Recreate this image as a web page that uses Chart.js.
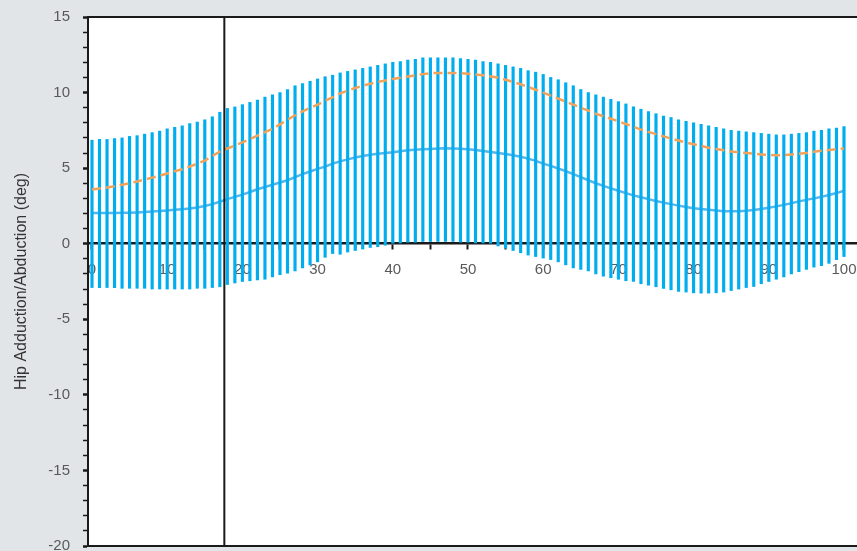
<!DOCTYPE html>
<html>
<head>
<meta charset="utf-8">
<script src="https://cdn.jsdelivr.net/npm/chart.js@4.4.1/dist/chart.umd.min.js"></script>
<style>
  html, body { margin: 0; padding: 0; background: #e2e5e8; }
  #wrap { width: 857px; height: 551px; position: relative; }
</style>
</head>
<body>
<div id="wrap"><canvas id="chart"></canvas></div>
<script>
// % of gait cycle, one bar per percent
const cycle = Array.from({ length: 101 }, (_, i) => i);

// upper / lower ends of the vertical bars (deg)
const upper = [
  6.85, 6.9, 6.9, 6.95, 7.0, 7.1, 7.15, 7.25, 7.35, 7.45,
  7.6, 7.7, 7.8, 7.95, 8.05, 8.2, 8.4, 8.7, 8.95, 9.05,
  9.2, 9.35, 9.5, 9.7, 9.85, 10.0, 10.2, 10.45, 10.6, 10.75,
  10.9, 11.05, 11.15, 11.3, 11.4, 11.5, 11.6, 11.7, 11.8, 11.9,
  12.0, 12.05, 12.15, 12.2, 12.3, 12.3, 12.3, 12.3, 12.3, 12.25,
  12.2, 12.15, 12.05, 12.0, 11.9, 11.8, 11.7, 11.6, 11.45, 11.35,
  11.2, 11.0, 10.85, 10.65, 10.45, 10.2, 10.0, 9.85, 9.7, 9.55,
  9.4, 9.25, 9.05, 8.9, 8.75, 8.6, 8.45, 8.35, 8.2, 8.1,
  8.0, 7.9, 7.8, 7.7, 7.6, 7.5, 7.45, 7.4, 7.35, 7.3,
  7.25, 7.2, 7.2, 7.25, 7.3, 7.35, 7.45, 7.5, 7.6, 7.65,
  7.75,
];
const lower = [
  -2.9, -2.9, -2.9, -2.9, -2.95, -2.95, -2.95, -2.95, -3.0, -3.0,
  -3.0, -3.0, -3.0, -3.0, -2.95, -2.95, -2.9, -2.85, -2.7, -2.6,
  -2.5, -2.45, -2.4, -2.35, -2.2, -2.05, -1.95, -1.8, -1.6, -1.4,
  -1.2, -0.9, -0.65, -0.7, -0.55, -0.45, -0.35, -0.25, -0.2, -0.1,
  0.0, 0.05, 0.1, 0.1, 0.15, 0.15, 0.15, 0.15, 0.15, 0.1,
  0.1, 0.05, 0.05, 0.0, -0.15, -0.3, -0.45, -0.6, -0.75, -0.85,
  -0.95, -1.05, -1.2, -1.4, -1.6, -1.7, -1.8, -2.0, -2.15, -2.25,
  -2.35, -2.45, -2.5, -2.65, -2.75, -2.85, -2.95, -3.05, -3.15, -3.2,
  -3.25, -3.27, -3.27, -3.25, -3.2, -3.1, -3.0, -2.9, -2.83, -2.65,
  -2.5, -2.35, -2.2, -2.0, -1.85, -1.7, -1.55, -1.45, -1.3, -1.05,
  -0.85,
];

// mean curve (solid blue)
const mean = [
  2.03, 2.03, 2.03, 2.04, 2.05, 2.05, 2.07, 2.1, 2.13, 2.17,
  2.2, 2.24, 2.28, 2.33, 2.4, 2.5, 2.62, 2.78, 2.95, 3.1,
  3.25, 3.42, 3.6, 3.75, 3.9, 4.05, 4.2, 4.4, 4.6, 4.78,
  4.95, 5.1, 5.3, 5.45, 5.58, 5.7, 5.8, 5.88, 5.95, 6.0,
  6.05, 6.12, 6.18, 6.22, 6.25, 6.27, 6.3, 6.32, 6.3, 6.28,
  6.25, 6.2, 6.14, 6.07, 6.0, 5.93, 5.85, 5.75, 5.63, 5.48,
  5.3, 5.15, 4.98, 4.8, 4.6, 4.4, 4.2, 4.0, 3.83, 3.66,
  3.5, 3.35, 3.2, 3.07, 2.95, 2.83, 2.72, 2.62, 2.52, 2.43,
  2.35, 2.29, 2.24, 2.19, 2.15, 2.14, 2.15, 2.18, 2.23, 2.3,
  2.38, 2.47, 2.57, 2.68, 2.8, 2.9, 3.0, 3.1, 3.22, 3.35,
  3.5,
];

// subject curve (orange dashed)
const subject = [
  3.58, 3.65, 3.72, 3.8, 3.9, 4.0, 4.12, 4.24, 4.37, 4.5,
  4.65, 4.8, 4.93, 5.1, 5.3, 5.5, 5.8, 6.1, 6.3, 6.5,
  6.7, 6.92, 7.15, 7.38, 7.6, 7.9, 8.2, 8.5, 8.75, 8.98,
  9.2, 9.45, 9.7, 9.95, 10.12, 10.3, 10.45, 10.58, 10.7, 10.8,
  10.9, 10.98, 11.06, 11.14, 11.22, 11.28, 11.3, 11.3, 11.3, 11.28,
  11.25, 11.2, 11.14, 11.07, 11.0, 10.85, 10.7, 10.55, 10.37, 10.19,
  10.0, 9.8, 9.6, 9.4, 9.2, 9.0, 8.8, 8.6, 8.43, 8.27,
  8.1, 7.92, 7.74, 7.55, 7.4, 7.25, 7.1, 6.96, 6.83, 6.7,
  6.58, 6.47, 6.35, 6.27, 6.18, 6.1, 6.05, 6.0, 5.95, 5.91,
  5.88, 5.85, 5.87, 5.9, 5.95, 6.0, 6.08, 6.15, 6.2, 6.25,
  6.3,
];

// event marker (toe off)
const eventAt = 17.6;
const yRange = [-20, 15];

// white plot area + top/bottom frame lines
const plotFrame = {
  id: "plotFrame",
  beforeDraw(chart) {
    const { ctx, chartArea: a } = chart;
    ctx.save();
    ctx.fillStyle = "#fff";
    ctx.fillRect(a.left, a.top, a.right - a.left, a.bottom - a.top);
    ctx.restore();
  },
  afterDraw(chart) {
    const { ctx, chartArea: a } = chart;
    ctx.save();
    ctx.strokeStyle = "#1a1a1a";
    ctx.lineWidth = 2;
    ctx.beginPath();
    ctx.moveTo(a.left, a.top);
    ctx.lineTo(a.right, a.top);
    ctx.moveTo(a.left, a.bottom);
    ctx.lineTo(a.right, a.bottom);
    ctx.stroke();
    ctx.restore();
  },
};

const tickFont = { family: "Liberation Sans, Arial, sans-serif", size: 15 };

new Chart(document.getElementById("chart"), {
  type: "bar",
  data: {
    datasets: [
      {
        type: "line",
        data: [
          { x: eventAt, y: yRange[1] },
          { x: eventAt, y: yRange[0] },
        ],
        borderColor: "#1a1a1a",
        borderWidth: 2,
        pointRadius: 0,
        order: 0,
      },
      {
        type: "line",
        data: cycle.map((x, i) => ({ x, y: subject[i] })),
        borderColor: "#f5a259",
        borderWidth: 2.5,
        borderDash: [9, 5],
        pointRadius: 0,
        order: 1,
      },
      {
        type: "bar",
        data: cycle.map((x, i) => ({ x, y: [lower[i], upper[i]] })),
        backgroundColor: "#00aeef",
        barThickness: 2.5,
        order: 2,
      },
      {
        type: "line",
        data: cycle.map((x, i) => ({ x, y: mean[i] })),
        borderColor: "#55b5ec",
        borderWidth: 2.5,
        pointRadius: 0,
        order: 3,
      },
    ],
  },
  options: {
    responsive: true,
    maintainAspectRatio: false,
    animation: false,
    layout: { padding: { top: 17, bottom: 5, left: 0, right: 0 } },
    plugins: { legend: { display: false }, tooltip: { enabled: false } },
    scales: {
      x: {
        type: "linear",
        position: { y: 0 },
        min: -0.53,
        max: 101.73,
        offset: false,
        grid: {
          offset: false,
          drawOnChartArea: false,
          drawTicks: true,
          tickLength: 5,
          tickColor: "#1a1a1a",
          tickWidth: 2,
        },
        border: { display: true, color: "#1a1a1a", width: 2.5, dash: [5, 3.5] },
        ticks: {
          stepSize: 5,
          includeBounds: false,
          autoSkip: false,
          maxRotation: 0,
          padding: 12,
          color: "#595959",
          font: tickFont,
          callback: (v) => (v % 10 === 0 ? v : ""),
        },
        afterFit(scale) {
          scale.paddingLeft = 0;
          scale.paddingRight = 0;
        },
      },
      y: {
        min: yRange[0],
        max: yRange[1],
        grid: {
          drawOnChartArea: false,
          tickLength: 5,
          tickColor: "#1a1a1a",
          tickWidth: (c) => (c.tick && c.tick.value % 5 === 0 ? 2.5 : 1.5),
        },
        border: { display: true, color: "#1a1a1a", width: 2 },
        ticks: {
          stepSize: 1,
          autoSkip: false,
          padding: 13,
          color: "#595959",
          font: tickFont,
          callback: (v) => (v % 5 === 0 ? v : ""),
        },
        title: {
          display: true,
          text: "Hip Adduction/Abduction (deg)",
          color: "#333",
          font: { family: "Liberation Sans, Arial, sans-serif", size: 16 },
          padding: { top: 12, bottom: 0 },
        },
        afterFit(scale) {
          scale.width = 88;
          scale.paddingTop = 0;
          scale.paddingBottom = 0;
        },
      },
    },
  },
  plugins: [plotFrame],
});
</script>
</body>
</html>
